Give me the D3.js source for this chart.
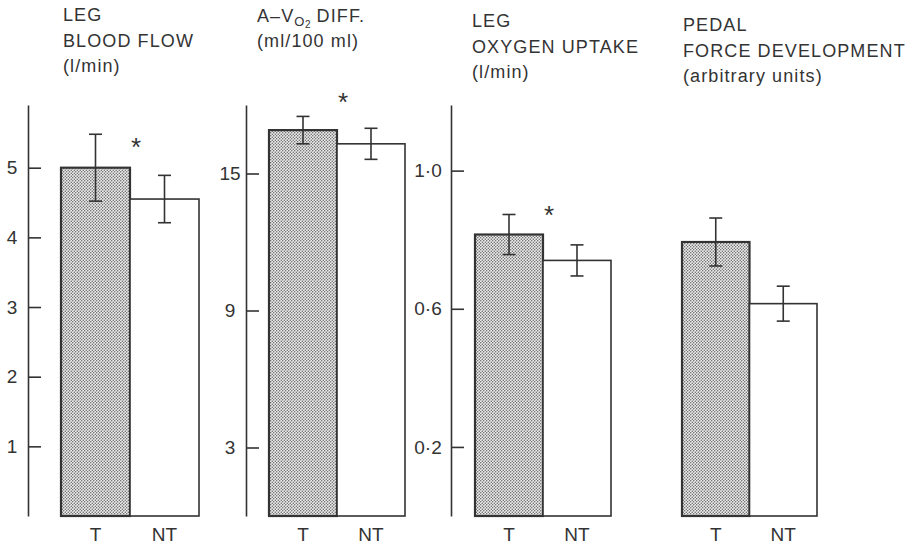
<!DOCTYPE html>
<html lang="en">
<head>
    <script src="https://d3js.org/d3.v7.min.js"></script>
    <title>Leg blood flow, a-v O2 difference, oxygen uptake, pedal force</title>
    <style>
        body { margin: 0; background: #fff; }
        svg text { font-family: "Liberation Sans", Arial, sans-serif; fill: #333; }
    </style>
</head>
<body>
    <div id="container"></div>
    <script>
        // values
        const groups = ["T", "NT"];
        const titles = [
            ["LEG", "BLOOD FLOW", "(l/min)"],
            ["A–VO2 DIFF.", "(ml/100 ml)"],
            ["LEG", "OXYGEN UPTAKE", "(l/min)"],
            ["PEDAL", "FORCE DEVELOPMENT", "(arbitrary units)"]
        ];
        const means  = [[5.0, 4.55], [16.9, 16.3], [0.815, 0.74], [0.80, 0.62]];
        const errors = [[0.48, 0.34], [0.6, 0.68], [0.058, 0.045], [0.07, 0.051]];
        const yMax   = [5.9, 18.0, 1.19, 1.2];
        const yTicks = [[1, 2, 3, 4, 5], [3, 9, 15], [0.2, 0.6, 1.0], []];
        const starAt = [5.39, 18.4, 0.89, null];

        const W = 913, H = 545;
        const BOTTOM = 516, TOP = 105;
        // per panel layout: axis x, bars left/right, tick label offset, title x / baselines
        const layout = [
            {axis: 28,  x0: 61,  x1: 199, lab: -16, tx: 63,  ty: [21, 47, 72], fmt: d => d},
            {axis: 246, x0: 269, x1: 405, lab: -16, tx: 257, ty: [22, 47],     fmt: d => d},
            {axis: 451, x0: 475, x1: 611, lab: -23, tx: 472, ty: [27, 53, 78], fmt: d => d.toFixed(1).replace(".", "·")},
            {axis: null, x0: 682, x1: 817, lab: 0,  tx: 683, ty: [31, 57, 82], fmt: d => d}
        ];
        const INK = "#333";

        const svg = d3.select("#container").append("svg").attr("width", W).attr("height", H);

        // stipple for the T bars
        const pat = svg.append("defs").append("pattern")
            .attr("id", "stipple").attr("patternUnits", "userSpaceOnUse")
            .attr("width", 3).attr("height", 3);
        pat.append("rect").attr("width", 3).attr("height", 3).attr("fill", "#ececec");
        pat.append("circle").attr("cx", 0.75).attr("cy", 0.75).attr("r", 0.7).attr("fill", "#555");
        pat.append("circle").attr("cx", 2.25).attr("cy", 2.25).attr("r", 0.7).attr("fill", "#555");

        layout.forEach((L, i) => {
            const g = svg.append("g");
            const x = d3.scaleBand().domain(groups).range([L.x0, L.x1]).padding(0);
            const y = d3.scaleLinear().domain([0, yMax[i]]).range([BOTTOM, TOP]);

            // title
            const t = g.append("text").attr("font-size", "18px").attr("letter-spacing", "1.1px");
            titles[i].forEach((line, j) => {
                const ts = t.append("tspan").attr("x", L.tx).attr("y", L.ty[j]);
                if (line.indexOf("VO2") >= 0) {
                    const parts = line.split("VO2");
                    ts.text(parts[0] + "V");
                    t.append("tspan").attr("font-size", "13px").attr("dy", 4).attr("letter-spacing", "0.5px").text("O");
                    t.append("tspan").attr("font-size", "10px").attr("dy", 2).attr("letter-spacing", "0px").text("2");
                    t.append("tspan").attr("dy", -6).text(parts[1]);
                } else {
                    ts.text(line);
                }
            });

            // y axis, ticks pointing inward
            if (L.axis !== null) {
                const ax = g.append("g").attr("transform", `translate(${L.axis},0)`)
                    .call(d3.axisLeft(y).tickValues(yTicks[i]).tickSizeInner(-13).tickSizeOuter(0).tickFormat(L.fmt));
                ax.select(".domain").attr("stroke", INK).attr("stroke-width", 1.6);
                ax.selectAll(".tick line").attr("stroke", INK).attr("stroke-width", 1.6);
                ax.selectAll(".tick text").attr("x", L.lab).attr("text-anchor", "middle")
                    .attr("font-size", "19px").attr("fill", INK);
            }

            // bars
            g.selectAll("rect.bar").data(groups).enter().append("rect")
                .attr("class", "bar")
                .attr("x", d => x(d))
                .attr("y", (d, k) => y(means[i][k]))
                .attr("width", x.bandwidth())
                .attr("height", (d, k) => BOTTOM - y(means[i][k]))
                .attr("fill", d => d === "T" ? "url(#stipple)" : "#fff")
                .attr("stroke", INK)
                .attr("stroke-width", d => d === "T" ? 2.2 : 1.6);

            // error bars
            const cap = 6.5;
            groups.forEach((d, k) => {
                const cx = x(d) + x.bandwidth() / 2;
                const hi = y(means[i][k] + errors[i][k]);
                const lo = y(means[i][k] - errors[i][k]);
                g.append("line").attr("x1", cx).attr("x2", cx).attr("y1", hi).attr("y2", lo)
                    .attr("stroke", INK).attr("stroke-width", 1.6);
                [hi, lo].forEach(yy => g.append("line")
                    .attr("x1", cx - cap).attr("x2", cx + cap).attr("y1", yy).attr("y2", yy)
                    .attr("stroke", INK).attr("stroke-width", 1.6));
            });

            // significance star
            if (starAt[i] !== null) {
                g.append("text").attr("x", x("NT") + 6).attr("y", y(starAt[i]) + 15)
                    .attr("text-anchor", "middle").attr("font-size", "26px").text("*");
            }

            // group labels
            g.selectAll("text.grp").data(groups).enter().append("text")
                .attr("class", "grp")
                .attr("x", d => x(d) + x.bandwidth() / 2)
                .attr("y", 541)
                .attr("text-anchor", "middle")
                .attr("font-size", "19px")
                .text(d => d);
        });
    </script>
</body>
</html>
